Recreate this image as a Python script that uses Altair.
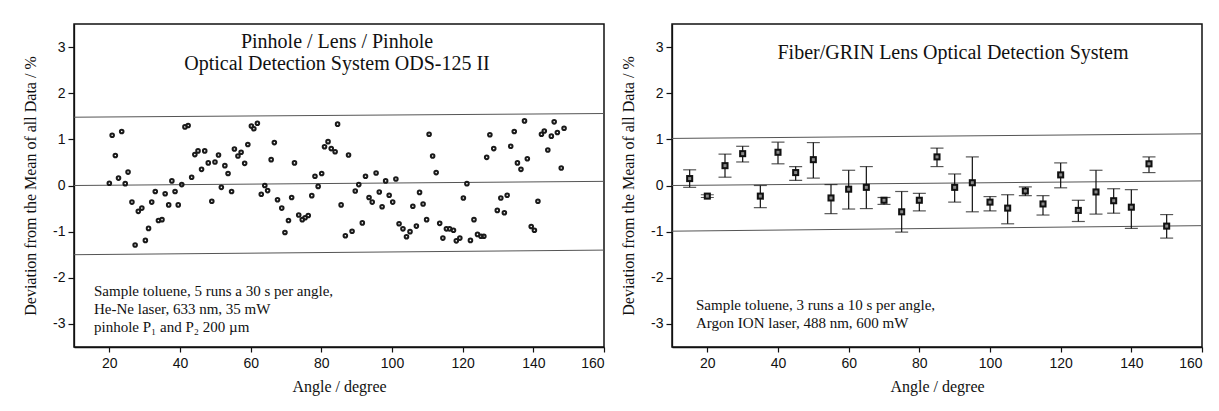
import altair as alt
import pandas as pd

# ---------------- Left panel: Pinhole / Lens / Pinhole ----------------
left_angle = [20.0, 20.8, 21.7, 22.6, 23.5, 24.5, 25.3, 26.4, 27.3, 28.2, 29.2, 30.2, 31.1, 32.0,
              33.0, 33.9, 34.9, 35.8, 36.8, 37.7, 38.6, 39.5, 40.5, 41.4, 42.3, 43.3, 44.2, 45.1,
              46.1, 47.0, 48.0, 49.0, 49.9, 50.9, 51.7, 52.7, 53.6, 54.6, 55.4, 56.4, 57.3, 58.3,
              59.2, 60.2, 60.9, 61.9, 63.0, 64.0, 64.8, 65.8, 66.7, 67.6, 68.8, 69.7, 70.7, 71.6,
              72.4, 73.6, 74.6, 75.4, 76.3, 77.3, 78.2, 79.1, 80.1, 80.9, 81.9, 82.8, 83.9, 84.6,
              85.6, 86.8, 87.7, 88.7, 89.6, 90.6, 91.6, 92.5, 93.5, 94.4, 95.5, 96.4, 97.2, 98.2,
              99.2, 100.2, 101.1, 102.0, 103.1, 104.1, 105.1, 105.9, 106.9, 107.8, 108.8, 109.8,
              110.5, 111.5, 112.5, 113.5, 114.4, 115.4, 116.3, 117.4, 118.2, 119.2, 120.2, 121.2,
              122.2, 123.2, 124.2, 125.2, 126.0, 126.8, 127.7, 128.8, 129.8, 130.8, 131.8, 132.6,
              133.6, 134.6, 135.5, 136.5, 137.5, 138.3, 139.4, 140.3, 141.3, 142.3, 143.1, 144.1,
              145.1, 145.9, 146.8, 147.9, 148.7]
left_dev = [0.05, 1.09, 0.65, 0.16, 1.17, 0.04, 0.29, -0.36, -1.29, -0.56, -0.49, -1.19, -0.93, -0.36,
            -0.13, -0.76, -0.74, -0.18, -0.42, 0.10, -0.13, -0.42, 0.02, 1.27, 1.30, 0.18, 0.67, 0.75,
            0.35, 0.75, 0.49, -0.34, 0.51, 0.66, -0.04, 0.43, 0.26, -0.13, 0.79, 0.64, 0.72, 0.48,
            0.89, 1.29, 1.23, 1.35, -0.19, 0.00, -0.11, 0.56, 0.93, -0.31, -0.49, -1.02, -0.76, -0.26,
            0.49, -0.64, -0.74, -0.70, -0.65, -0.22, 0.20, -0.02, 0.26, 0.84, 0.95, 0.80, 0.73, 1.33,
            -0.42, -1.09, 0.66, -0.99, -0.12, 0.02, -0.81, 0.20, -0.26, -0.36, 0.27, -0.14, -0.46, 0.10,
            -0.21, -0.36, 0.14, -0.83, -0.94, -1.11, -1.00, -0.45, -0.88, -0.15, -0.40, -0.74,
            1.11, 0.64, 0.28, -0.82, -1.14, -0.94, -0.94, -0.97, -1.20, -1.14, -0.27, 0.04,
            -1.19, -0.74, -1.06, -1.10, -1.10, 0.61, 1.10, 0.80, -0.54, -0.27, -0.59, -0.21,
            0.85, 1.17, 0.49, 0.35, 1.40, 0.58, -0.89, -0.97, -0.34, 1.11, 1.18, 0.77,
            1.07, 1.38, 1.15, 0.38, 1.24]

# reference lines (value at angle 10 and at angle 160, as drawn)
left_ref_start = [1.48, 0.00, -1.50]
left_ref_end = [1.56, 0.09, -1.40]

# ---------------- Right panel: Fiber/GRIN lens ----------------
right_angle = [15, 20, 25, 30, 35, 40, 45, 50, 55, 60, 65, 70, 75, 80,
               85, 90, 95, 100, 105, 110, 115, 120, 125, 130, 135, 140, 145, 150]
right_dev = [0.15, -0.23, 0.43, 0.69, -0.23, 0.72, 0.28, 0.56, -0.27, -0.08, -0.04, -0.32, -0.57, -0.32,
             0.62, -0.04, 0.06, -0.36, -0.49, -0.12, -0.40, 0.23, -0.54, -0.14, -0.33, -0.47, 0.47, -0.88]
right_hi = [0.34, -0.20, 0.68, 0.85, 0.00, 0.94, 0.41, 0.93, 0.02, 0.33, 0.41, -0.26, -0.13, -0.17,
            0.81, 0.25, 0.62, -0.24, -0.20, -0.03, -0.22, 0.49, -0.32, 0.33, -0.07, -0.09, 0.62, -0.63]
right_lo = [-0.04, -0.26, 0.18, 0.51, -0.48, 0.47, 0.11, 0.16, -0.61, -0.51, -0.50, -0.41, -1.01, -0.55,
            0.41, -0.36, -0.57, -0.55, -0.83, -0.22, -0.64, -0.05, -0.78, -0.62, -0.60, -0.93, 0.28, -1.14]

right_ref_start = [1.02, 0.00, -0.99]
right_ref_end = [1.12, 0.10, -0.87]

x_ticks = [20, 40, 60, 80, 100, 120, 140, 160]
y_ticks = [-3, -2, -1, 0, 1, 2, 3]

W, H = 530, 323
SERIF = "Liberation Serif"
SANS = "Liberation Sans"

x_scale = alt.Scale(domain=[10, 160], nice=False, zero=False)
y_scale = alt.Scale(domain=[-3.5, 3.5], nice=False, zero=False)

x_axis = alt.Axis(values=x_ticks, title="Angle / degree", grid=False, tickSize=5,
                  labelPadding=4, titlePadding=8, labelExpr="datum.value + ''")
y_axis = alt.Axis(values=y_ticks, title="Deviation from the Mean of all Data / %", grid=False,
                  tickSize=6, labelPadding=3, titlePadding=14, labelExpr="datum.value + ''")


def ref_lines(starts, ends):
    df = pd.DataFrame({"x0": [10] * len(starts), "x1": [160] * len(starts), "y0": starts, "y1": ends})
    return alt.Chart(df).mark_rule(color="#555555", strokeWidth=1).encode(
        x=alt.X("x0:Q", scale=x_scale, axis=x_axis),
        x2="x1:Q",
        y=alt.Y("y0:Q", scale=y_scale, axis=y_axis),
        y2="y1:Q",
    )


def text_layer(lines, xs, ys, size, align):
    df = pd.DataFrame({"t": lines, "px": xs, "py": ys})
    return alt.Chart(df).mark_text(font=SERIF, fontSize=size, align=align, baseline="middle",
                                   color="#111111").encode(
        text="t:N",
        x=alt.X("px:Q", scale=None),
        y=alt.Y("py:Q", scale=None),
    )


# ----- Left chart -----
left_df = pd.DataFrame({"angle": left_angle, "dev": left_dev})
left_points = alt.Chart(left_df).mark_point(filled=False, shape="circle", size=13, strokeWidth=2,
                                            color="#1a1a1a", opacity=1).encode(
    x=alt.X("angle:Q", scale=x_scale, axis=x_axis),
    y=alt.Y("dev:Q", scale=y_scale, axis=y_axis),
)
left_title = text_layer(["Pinhole / Lens / Pinhole", "Optical Detection System ODS-125 II"],
                        [263, 263], [17.5, 40], 20, "center")
left_note = text_layer(["Sample toluene, 5 runs a 30 s per angle,",
                        "He-Ne laser, 633 nm, 35 mW",
                        "pinhole P\u2081 and P\u2082 200 \u00b5m"],
                       [20, 20, 20], [267, 285, 303], 15, "left")
left_chart = alt.layer(ref_lines(left_ref_start, left_ref_end), left_points, left_title, left_note).properties(
    width=W, height=H)

# ----- Right chart -----
right_df = pd.DataFrame({"angle": right_angle, "dev": right_dev, "hi": right_hi, "lo": right_lo})
base_r = alt.Chart(right_df)
err_rule = base_r.mark_rule(color="#111111", strokeWidth=1.2).encode(
    x=alt.X("angle:Q", scale=x_scale, axis=x_axis),
    y=alt.Y("lo:Q", scale=y_scale, axis=y_axis),
    y2="hi:Q",
)
cap_hi = base_r.mark_tick(orient="horizontal", size=13, thickness=1.2, color="#111111").encode(
    x=alt.X("angle:Q", scale=x_scale), y=alt.Y("hi:Q", scale=y_scale))
cap_lo = base_r.mark_tick(orient="horizontal", size=13, thickness=1.2, color="#111111").encode(
    x=alt.X("angle:Q", scale=x_scale), y=alt.Y("lo:Q", scale=y_scale))
squares = base_r.mark_square(size=50, color="#111111", opacity=1).encode(
    x=alt.X("angle:Q", scale=x_scale), y=alt.Y("dev:Q", scale=y_scale))
squares_in = base_r.mark_square(size=9, color="#8a8a8a", opacity=1).encode(
    x=alt.X("angle:Q", scale=x_scale), y=alt.Y("dev:Q", scale=y_scale))
right_title = text_layer(["Fiber/GRIN Lens Optical Detection System"], [281], [29], 20, "center")
right_note = text_layer(["Sample toluene, 3 runs a 10 s per angle,",
                         "Argon ION laser, 488 nm, 600 mW"],
                        [24, 24], [281, 299], 15, "left")
right_chart = alt.layer(ref_lines(right_ref_start, right_ref_end), err_rule, cap_hi, cap_lo,
                        squares, squares_in, right_title, right_note).properties(width=W, height=H)

chart = alt.hconcat(left_chart, right_chart, spacing=68, bounds="flush").properties(
    padding={"left": 13, "top": 15, "right": 5, "bottom": 5},
    background="white",
).configure_view(
    stroke="#111111", strokeWidth=1.5
).configure_axis(
    labelFont=SANS, labelFontSize=14, labelColor="#111111",
    titleFont=SERIF, titleFontSize=16, titleFontWeight="normal", titleColor="#111111",
    domainColor="#111111", domainWidth=1.3, tickColor="#111111", tickWidth=1.2,
)

chart.save("out.html", embed_options={"renderer": "svg", "actions": False})
